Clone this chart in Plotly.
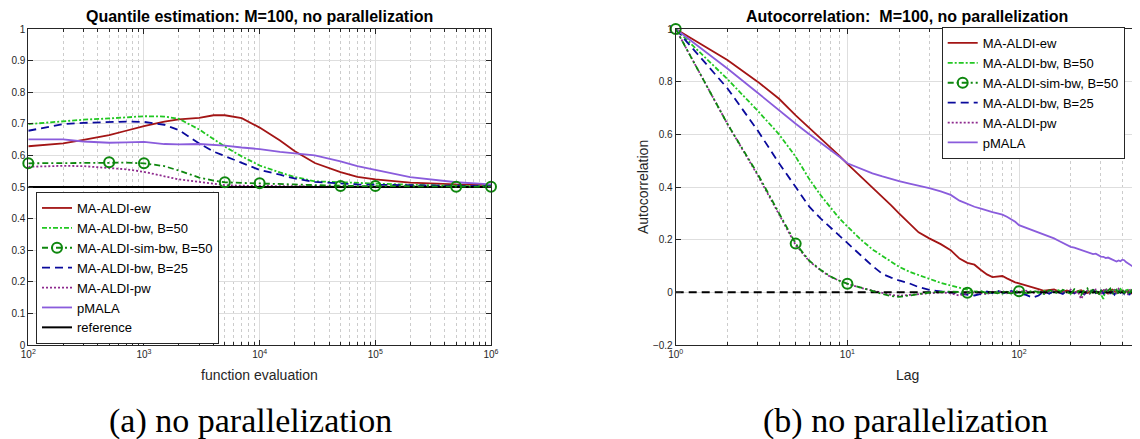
import math
import plotly.graph_objects as go

# ---------------- Left panel data: quantile estimation ----------------
fevals = [100, 200, 300, 500, 700, 1000, 1500, 2000, 3000, 4000, 5000, 7000,
          10000, 15000, 20000, 30000, 50000, 70000, 100000, 200000, 500000, 1000000]
q_ew = [0.629, 0.638, 0.649, 0.664, 0.678, 0.693, 0.707, 0.714, 0.719, 0.727, 0.727, 0.718,
        0.688, 0.647, 0.614, 0.576, 0.547, 0.532, 0.524, 0.514, 0.508, 0.506]
q_bw50 = [0.699, 0.709, 0.713, 0.717, 0.720, 0.724, 0.723, 0.716, 0.682, 0.652, 0.628, 0.597,
          0.568, 0.546, 0.532, 0.518, 0.515, 0.512, 0.509, 0.507, 0.504, 0.503]
q_simbw = [0.575, 0.576, 0.577, 0.578, 0.577, 0.575, 0.566, 0.552, 0.530, 0.520, 0.515, 0.513,
           0.512, 0.510, 0.508, 0.506, 0.503, 0.503, 0.503, 0.502, 0.501, 0.501]
q_bw25 = [0.678, 0.699, 0.703, 0.706, 0.707, 0.706, 0.697, 0.680, 0.638, 0.612, 0.598, 0.576,
          0.554, 0.539, 0.527, 0.516, 0.510, 0.508, 0.507, 0.505, 0.504, 0.503]
q_pw = [0.564, 0.567, 0.566, 0.561, 0.556, 0.548, 0.535, 0.524, 0.516, 0.510, 0.506, 0.504,
        0.503, 0.502, 0.502, 0.502, 0.501, 0.501, 0.501, 0.501, 0.501, 0.501]
q_pmala = [0.651, 0.651, 0.644, 0.640, 0.641, 0.643, 0.636, 0.635, 0.636, 0.634, 0.631, 0.625,
           0.620, 0.611, 0.607, 0.600, 0.581, 0.566, 0.554, 0.531, 0.515, 0.508]
q_reference = 0.5
q_marker_fevals = [100, 500, 1000, 5000, 10000, 50000, 100000, 500000, 1000000]

# ---------------- Right panel data: autocorrelation ----------------
lags = [1, 2, 3, 4, 5, 6, 7, 8, 9, 10, 12, 14, 16, 18, 20, 23, 26, 30,
        35, 40, 45, 50, 55, 60, 65, 70, 75, 80, 85, 90, 95, 100,
        110, 120, 130, 140, 150, 160, 170, 180, 190, 200, 210, 220, 230, 240, 250, 260, 270, 280,
        290, 300, 310, 320, 330, 340, 350, 360, 370, 380, 390, 400, 410, 420, 430, 440, 450, 460,
        470, 480, 490, 500]
ac_ew = [1.0, 0.882, 0.80, 0.735, 0.672, 0.625, 0.585, 0.55, 0.518, 0.488, 0.44, 0.40, 0.362, 0.33, 0.30,
         0.262, 0.228, 0.205,
         0.183, 0.16, 0.128, 0.112, 0.105, 0.085, 0.068, 0.058, 0.061, 0.062, 0.053, 0.044, 0.038, 0.034,
         0.027, 0.018, 0.012, 0.006, 0.009, 0.011, 0.004, 0.002, 0.007, 0.003, -0.002, 0.005, 0.008, 0.001,
         -0.003, 0.004, 0.009, 0.002, -0.004, 0.003, 0.007, 0.0, -0.005, 0.004, 0.010, 0.003, -0.002, 0.005,
         0.001, 0.006, -0.003, 0.002, 0.008, 0.0, -0.004, 0.005, 0.003, -0.002, 0.004, 0.001]
ac_bw50 = [1.0, 0.81, 0.69, 0.60, 0.515, 0.43, 0.368, 0.32, 0.28, 0.25, 0.20, 0.163, 0.138, 0.115, 0.097,
           0.078, 0.065, 0.05,
           0.036, 0.026, 0.016, 0.01, 0.004, 0.0, -0.004, -0.002, 0.003, -0.005, 0.002, -0.003, 0.004, 0.0,
           -0.006, 0.003, -0.002, 0.006, -0.004, 0.002, 0.008, -0.003, 0.004, -0.006, 0.005, 0.0, 0.009, -0.004,
           0.003, 0.011, -0.002, 0.006, 0.0, -0.008, -0.025, 0.012, 0.001, -0.006, 0.004, 0.009, -0.003, 0.007,
           0.013, 0.002, -0.006, 0.008, 0.010, 0.0, 0.012, 0.005, -0.004, 0.009, 0.003, 0.007]
ac_simbw = [1.0, 0.64, 0.45, 0.30, 0.185, 0.12, 0.085, 0.06, 0.044, 0.033, 0.017, 0.005, -0.006, -0.014, -0.017,
            -0.012, -0.006, -0.001,
            0.002, 0.003, 0.001, -0.002, 0.002, 0.004, -0.003, 0.001, -0.004, 0.003, 0.0, -0.005, 0.002, 0.004,
            -0.003, 0.006, 0.001, -0.006, 0.008, 0.002, -0.004, 0.010, 0.003, -0.007, 0.012, 0.004, -0.010, 0.007,
            0.015, -0.003, 0.009, 0.004, -0.012, 0.006, 0.011, -0.002, 0.008, 0.014, -0.006, 0.005, 0.010, -0.008,
            0.004, 0.012, -0.003, 0.007, 0.002, -0.009, 0.006, 0.011, -0.004, 0.003, -0.007, -0.010]
ac_bw25 = [1.0, 0.775, 0.615, 0.49, 0.40, 0.325, 0.28, 0.245, 0.212, 0.185, 0.14, 0.10, 0.07, 0.056, 0.045,
           0.034, 0.02, 0.009,
           0.004, 0.0, -0.006, -0.008, -0.012, -0.006, 0.003, -0.003, 0.006, 0.0, -0.004, 0.005, 0.002, -0.003,
           -0.010, -0.020, -0.012, 0.004, -0.005, 0.006, 0.0, -0.006, 0.008, 0.003, -0.004, 0.006, 0.002, -0.008,
           0.004, 0.0, 0.009, -0.003, 0.002, 0.007, -0.005, 0.003, 0.006, -0.004, 0.001, -0.009, 0.004, 0.008,
           -0.002, 0.003, -0.006, 0.005, 0.0, -0.010, 0.004, 0.007, -0.005, 0.002, -0.008, -0.004]
ac_pw = [1.0, 0.64, 0.445, 0.295, 0.18, 0.118, 0.083, 0.058, 0.043, 0.032, 0.017, 0.006, -0.004, -0.010, -0.013,
         -0.010, -0.005, -0.003,
         0.0, -0.004, -0.012, -0.004, 0.0, -0.003, -0.007, 0.002, -0.002, 0.005, -0.004, 0.001, -0.006, 0.003,
         0.006, -0.002, 0.004, -0.004, 0.003, 0.007, -0.003, 0.005, 0.0, 0.010, -0.005, 0.004, -0.025, -0.004,
         0.006, -0.008, 0.003, 0.011, 0.0, -0.005, 0.007, 0.015, 0.002, -0.007, 0.004, 0.009, -0.002, 0.013,
         0.005, -0.004, 0.010, 0.003, -0.006, 0.008, 0.012, 0.002, -0.003, 0.007, 0.004, 0.0]
ac_pmala = [1.0, 0.85, 0.758, 0.69, 0.64, 0.60, 0.568, 0.54, 0.515, 0.49, 0.468, 0.452, 0.44, 0.43, 0.422,
            0.413, 0.405, 0.396,
            0.383, 0.37, 0.348, 0.335, 0.325, 0.318, 0.31, 0.305, 0.30, 0.295, 0.287, 0.278, 0.268, 0.255,
            0.245, 0.235, 0.228, 0.22, 0.212, 0.205, 0.196, 0.188, 0.18, 0.173, 0.17, 0.165, 0.163, 0.158,
            0.153, 0.15, 0.145, 0.147, 0.14, 0.136, 0.135, 0.13, 0.132, 0.128, 0.125, 0.12, 0.117, 0.121,
            0.118, 0.124, 0.122, 0.115, 0.11, 0.108, 0.102, 0.098, 0.095, 0.097, 0.09, 0.082]
ac_reference = 0.0
ac_marker_lags = [1, 5, 10, 50, 100, 500]

# ---------------- styles ----------------
C_EW = "#a31515"
C_BW50 = "#22c722"
C_SIM = "#0e870e"
C_BW25 = "#0a0a9c"
C_PW = "#8e2a8e"
C_PMALA = "#8a5cdc"
FONT = "Liberation Sans, Arial, sans-serif"
DASH_BW50 = "5px,2px,2px,2px"
DASH_SIM = "6px,3px,2px,3px"
DASH_BW25 = "8px,5px"
DASH_PW = "2px,2px"
LW = 1.8

fig = go.Figure()


def pick(xs, ys, keep):
    out = [(x, y) for x, y in zip(xs, ys) if x in keep]
    return [p[0] for p in out], [p[1] for p in out]


def add_panel(xs, series, ref_val, marker_x, xa, ya, legend, with_ref_legend):
    ew, bw50, sim, bw25, pw, pm = series
    fig.add_trace(go.Scatter(x=xs, y=ew, mode="lines", name="MA-ALDI-ew",
                             line=dict(color=C_EW, width=LW), xaxis=xa, yaxis=ya, legend=legend))
    fig.add_trace(go.Scatter(x=xs, y=bw50, mode="lines", name="MA-ALDI-bw, B=50",
                             line=dict(color=C_BW50, width=LW, dash=DASH_BW50), xaxis=xa, yaxis=ya, legend=legend))
    # legend-only entry for the line+marker series
    fig.add_trace(go.Scatter(x=[None], y=[None], mode="lines+markers", name="MA-ALDI-sim-bw, B=50",
                             line=dict(color=C_SIM, width=LW, dash=DASH_SIM),
                             marker=dict(symbol="circle-open", size=10, color=C_SIM, line=dict(width=2)),
                             xaxis=xa, yaxis=ya, legend=legend))
    fig.add_trace(go.Scatter(x=xs, y=bw25, mode="lines", name="MA-ALDI-bw, B=25",
                             line=dict(color=C_BW25, width=LW, dash=DASH_BW25), xaxis=xa, yaxis=ya, legend=legend))
    fig.add_trace(go.Scatter(x=xs, y=pw, mode="lines", name="MA-ALDI-pw",
                             line=dict(color=C_PW, width=LW, dash=DASH_PW), xaxis=xa, yaxis=ya, legend=legend))
    fig.add_trace(go.Scatter(x=xs, y=pm, mode="lines", name="pMALA",
                             line=dict(color=C_PMALA, width=LW), xaxis=xa, yaxis=ya, legend=legend))
    fig.add_trace(go.Scatter(x=[xs[0], xs[-1]], y=[ref_val, ref_val], mode="lines", name="reference",
                             line=dict(color="black", width=2,
                                       dash="solid" if with_ref_legend else "8px,5px"),
                             showlegend=with_ref_legend, xaxis=xa, yaxis=ya, legend=legend))
    # the sim-bw series drawn on top
    fig.add_trace(go.Scatter(x=xs, y=sim, mode="lines", name="MA-ALDI-sim-bw, B=50", showlegend=False,
                             line=dict(color=C_SIM, width=LW, dash=DASH_SIM), xaxis=xa, yaxis=ya, legend=legend))
    mx, my = pick(xs, sim, marker_x)
    fig.add_trace(go.Scatter(x=mx, y=my, mode="markers", name="MA-ALDI-sim-bw, B=50", showlegend=False,
                             marker=dict(symbol="circle-open", size=10, color=C_SIM, line=dict(width=2)),
                             cliponaxis=False, xaxis=xa, yaxis=ya, legend=legend))


add_panel(fevals, [q_ew, q_bw50, q_simbw, q_bw25, q_pw, q_pmala], q_reference, q_marker_fevals,
          "x", "y", "legend", True)
add_panel(lags, [ac_ew, ac_bw50, ac_simbw, ac_bw25, ac_pw, ac_pmala], ac_reference, ac_marker_lags,
          "x2", "y2", "legend2", False)

# The page body has an 8px margin: the figure occupies window pixels 8..1140 x 8..439
OX, OY = 8, 8
W, H = 1140 - OX, 439 - OY


def px(xp):
    return (xp - OX) / W


def py(yp):
    return 1 - (yp - OY) / H


L_dom = [px(28.3), px(491)]
R_dom = [px(675.7), px(1139)]
Y_dom = [py(345), py(29)]

axis_common = dict(showline=True, linecolor="#262626", linewidth=1, mirror="allticks",
                   ticks="inside", ticklen=5, tickcolor="#262626", tickwidth=1, automargin=False,
                   showgrid=True, gridcolor="#dedede", gridwidth=1, zeroline=False,
                   tickfont=dict(family=FONT, size=10, color="#262626"))

minor_left = [k * 10 ** d for d in range(2, 6) for k in range(2, 10)]
minor_right = [k * 10 ** d for d in range(0, 2) for k in range(2, 10)] + [200, 300, 400]
minor_style = dict(tickmode="array", ticks="inside", ticklen=3, tickcolor="#262626",
                   showgrid=True, gridcolor="#cccccc", griddash="dot", gridwidth=1)

LEG_FONT = 13

fig.update_layout(
    width=W, height=H, autosize=False,
    margin=dict(l=0, r=0, t=0, b=0, autoexpand=False),
    paper_bgcolor="white", plot_bgcolor="white",
    font=dict(family=FONT, color="#262626"),
    xaxis=dict(domain=L_dom, type="log", range=[2, 6], anchor="y",
               tickvals=[100, 1000, 10000, 100000, 1000000],
               ticktext=["10<sup>2</sup>", "10<sup>3</sup>", "10<sup>4</sup>", "10<sup>5</sup>", "10<sup>6</sup>"],
               minor=dict(tickvals=minor_left, **minor_style), **axis_common),
    yaxis=dict(domain=Y_dom, range=[0, 1], anchor="x", tickmode="linear", tick0=0, dtick=0.1,
               **axis_common),
    xaxis2=dict(domain=R_dom, type="log", range=[0, math.log10(500)], anchor="y2",
                tickvals=[1, 10, 100],
                ticktext=["10<sup>0</sup>", "10<sup>1</sup>", "10<sup>2</sup>"],
                minor=dict(tickvals=minor_right, **minor_style), **axis_common),
    yaxis2=dict(domain=Y_dom, range=[-0.2, 1], anchor="x2", tickmode="linear", tick0=0, dtick=0.2,
                **axis_common),
    legend=dict(x=px(36), y=py(192), xanchor="left", yanchor="top",
                bgcolor="white", bordercolor="#262626", borderwidth=1,
                font=dict(family=FONT, size=LEG_FONT, color="black"), tracegroupgap=0),
    legend2=dict(x=px(941.7), y=py(27), xanchor="left", yanchor="top",
                 bgcolor="white", bordercolor="#262626", borderwidth=1,
                 font=dict(family=FONT, size=LEG_FONT, color="black"), tracegroupgap=0),
    showlegend=True,
)

center = dict(xref="paper", yref="paper", xanchor="center", yanchor="middle", showarrow=False)
ann = [
    dict(text="<b>Quantile estimation: M=100, no parallelization</b>", x=(L_dom[0] + L_dom[1]) / 2, y=py(17),
         font=dict(family=FONT, size=16, color="black"), **center),
    dict(text="<b>Autocorrelation:&nbsp; M=100, no parallelization</b>", x=(R_dom[0] + R_dom[1]) / 2, y=py(17),
         font=dict(family=FONT, size=16, color="black"), **center),
    dict(text="function evaluation", x=(L_dom[0] + L_dom[1]) / 2, y=py(375),
         font=dict(family=FONT, size=14, color="#262626"), **center),
    dict(text="Lag", x=(R_dom[0] + R_dom[1]) / 2, y=py(375),
         font=dict(family=FONT, size=14, color="#262626"), **center),
    dict(text="Autocorrelation", x=px(643), y=(Y_dom[0] + Y_dom[1]) / 2, textangle=-90,
         font=dict(family=FONT, size=14, color="#262626"), **center),
    dict(text="(a) no parallelization", x=px(250), y=py(421),
         font=dict(family="Liberation Serif, serif", size=34, color="black"), **center),
    dict(text="(b) no parallelization", x=px(905), y=py(421),
         font=dict(family="Liberation Serif, serif", size=34, color="black"), **center),
]
fig.update_layout(annotations=ann)

fig.write_html("out.html")
